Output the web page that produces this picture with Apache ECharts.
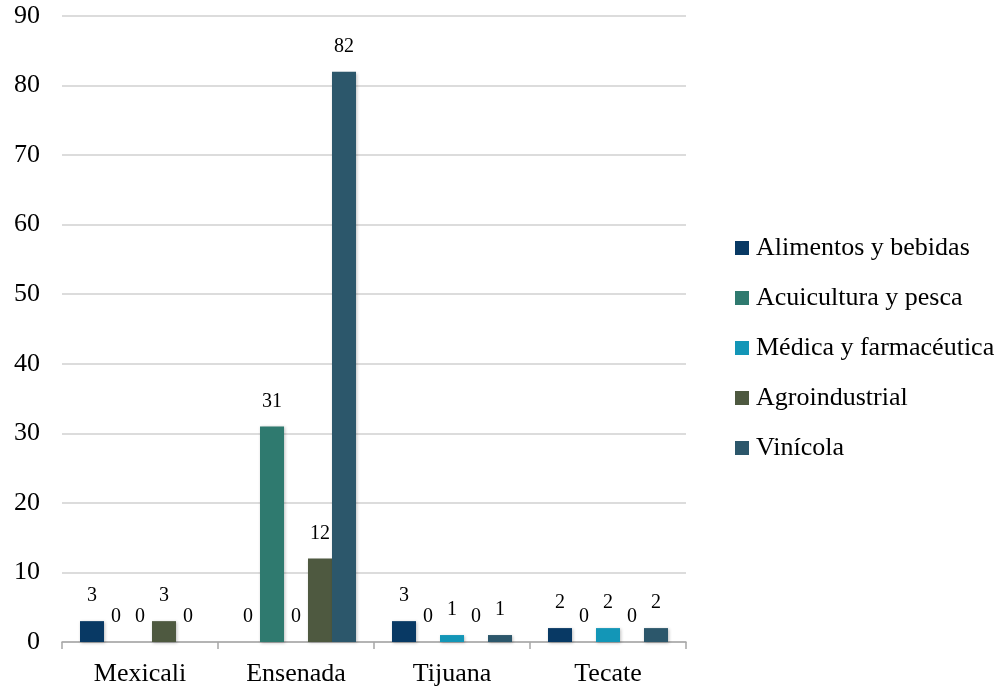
<!DOCTYPE html>
<html>
<head>
<meta charset="utf-8">
<script src="https://cdn.jsdelivr.net/npm/echarts@6/dist/echarts.min.js"></script>
<style>
  html, body { margin: 0; padding: 0; background: #ffffff; }
  #chart { width: 1005px; height: 692px; }
</style>
</head>
<body>
<div id="chart"></div>
<script>
// Municipalities on the category axis
const categories = ['Mexicali', 'Ensenada', 'Tijuana', 'Tecate'];

// Companies per sector and municipality
const alimentos   = [3, 0, 3, 2];
const acuicultura = [0, 31, 0, 0];
const medica      = [0, 0, 1, 2];
const agro        = [3, 12, 0, 0];
const vinicola    = [0, 82, 1, 2];

const seriesNames = ['Alimentos y bebidas', 'Acuicultura y pesca', 'Médica y farmacéutica', 'Agroindustrial', 'Vinícola'];
const seriesData  = [alimentos, acuicultura, medica, agro, vinicola];
const colors      = ['#083964', '#2f7a6f', '#1396b7', '#4e5940', '#2c576b'];

const FONT = '"Liberation Serif", "Times New Roman", serif';

const chart = echarts.init(document.getElementById('chart'), null, { renderer: 'canvas' });

chart.setOption({
  animation: false,
  backgroundColor: '#ffffff',
  grid: { left: 62, right: 319, top: 16, bottom: 50, containLabel: false, outerBoundsMode: 'none' },
  legend: {
    orient: 'vertical',
    left: 730,
    top: 230,
    itemWidth: 14,
    itemHeight: 14,
    itemGap: 24,
    icon: 'rect',
    textStyle: { fontFamily: FONT, fontSize: 26, color: '#000000', padding: [0, 0, 0, 2] },
    data: seriesNames
  },
  xAxis: {
    type: 'category',
    data: categories,
    axisLine: { show: true, lineStyle: { color: '#a6a6a6', width: 1.5 } },
    axisTick: { show: true, length: 7, lineStyle: { color: '#a6a6a6', width: 1.5 } },
    axisLabel: { fontFamily: FONT, fontSize: 26, color: '#000000', margin: 19 }
  },
  yAxis: {
    type: 'value',
    min: 0,
    max: 90,
    interval: 10,
    axisLine: { show: false },
    axisTick: { show: false },
    splitLine: { lineStyle: { color: '#d0d0d0', width: 1.5 } },
    axisLabel: { fontFamily: FONT, fontSize: 26, color: '#000000', margin: 22, lineHeight: 26, padding: [6, 0, 0, 0] }
  },
  series: seriesNames.map((name, i) => ({
    name: name,
    type: 'bar',
    data: seriesData[i],
    barWidth: 24,
    barGap: '0%',
    barCategoryGap: '23%',
    itemStyle: {
      color: colors[i],
      shadowColor: 'rgba(0,0,0,0.25)',
      shadowBlur: 3,
      shadowOffsetX: 1,
      shadowOffsetY: 1
    },
    label: {
      show: true,
      position: 'top',
      distance: 15,
      fontFamily: FONT,
      fontSize: 20,
      color: '#000000'
    }
  }))
});
</script>
</body>
</html>
